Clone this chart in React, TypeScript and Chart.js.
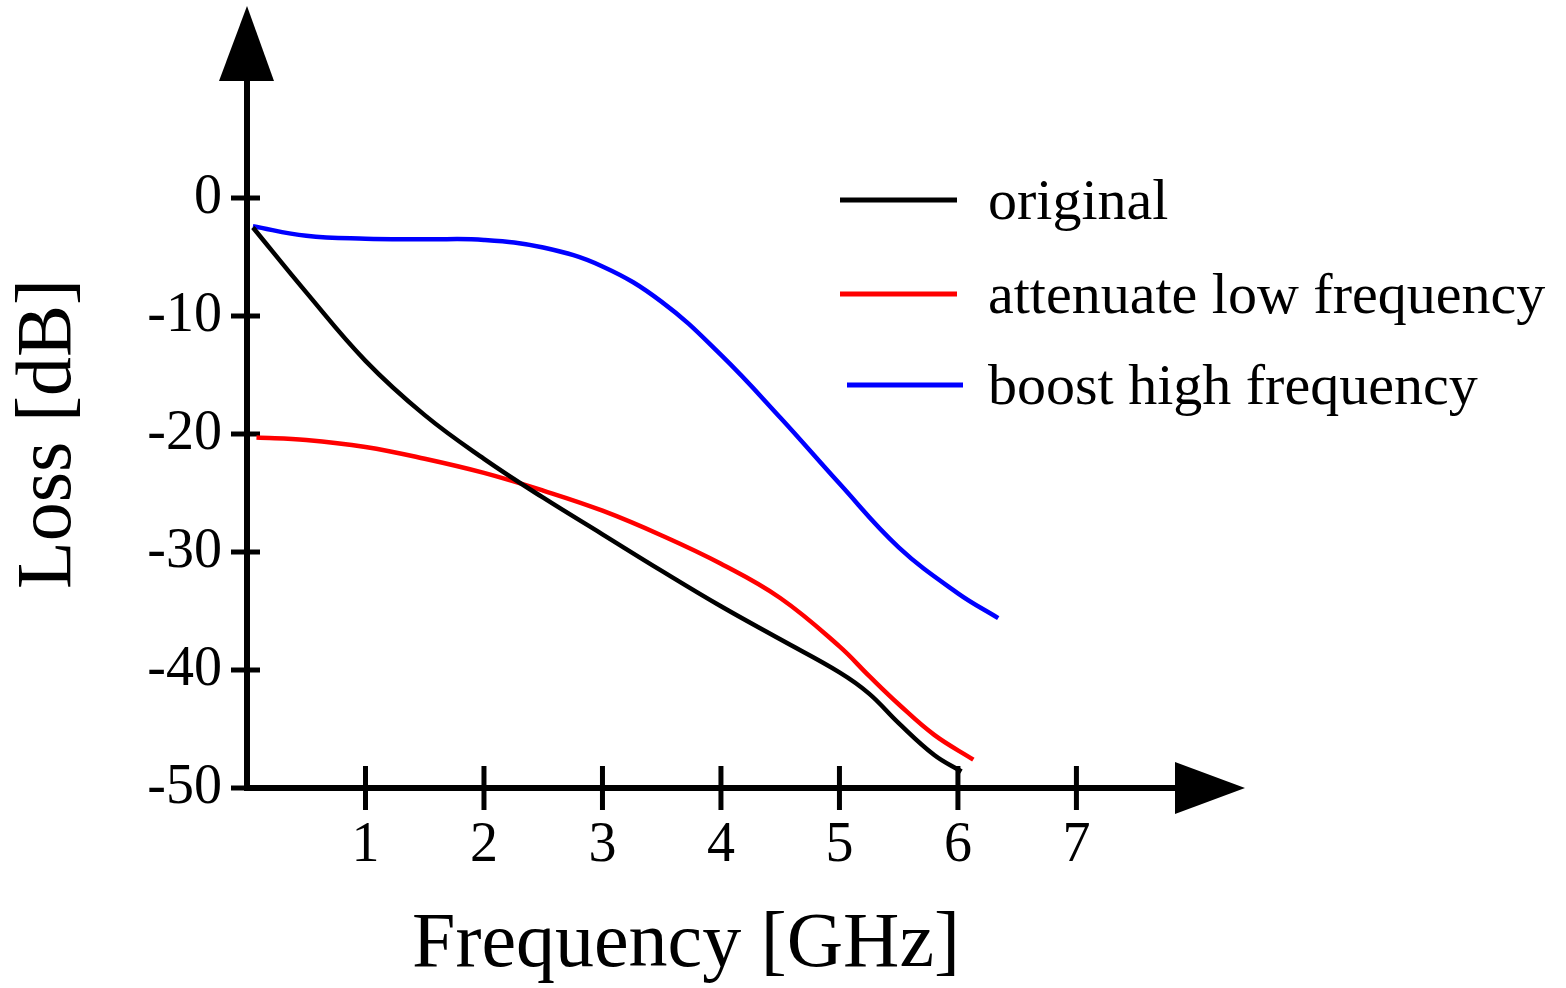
import React, { useEffect, useRef } from 'react';
import { Chart, registerables } from 'chart.js';

Chart.register(...registerables);

// ---------- data ----------
const SERIES_LABELS = ['original', 'attenuate low frequency', 'boost high frequency'];

const originalFreq = [0.05, 0.5, 1.0, 1.5, 2.0, 2.5, 3.0, 3.5, 4.0, 4.5, 5.0, 5.25, 5.5, 5.8, 6.03];
const originalLoss = [-2.5, -8.0, -13.8, -18.4, -22.1, -25.4, -28.5, -31.6, -34.6, -37.4, -40.2, -42.0, -44.5, -47.2, -48.6];

const attenuateFreq = [0.08, 0.5, 1.0, 1.5, 2.0, 2.5, 3.0, 3.5, 4.0, 4.5, 5.0, 5.25, 5.5, 5.8, 6.13];
const attenuateLoss = [-20.3, -20.5, -21.1, -22.1, -23.3, -24.8, -26.5, -28.6, -31.0, -33.9, -38.0, -40.5, -42.9, -45.5, -47.6];

const boostFreq = [0.05, 0.5, 1.0, 1.5, 2.0, 2.5, 3.0, 3.5, 4.0, 4.5, 5.0, 5.5, 6.0, 6.34];
const boostLoss = [-2.4, -3.2, -3.45, -3.5, -3.55, -4.2, -5.8, -8.8, -13.3, -18.6, -24.2, -29.6, -33.5, -35.6];

const X_TICKS = [1, 2, 3, 4, 5, 6, 7];
const Y_TICKS = [0, -10, -20, -30, -40, -50];
const X_TITLE = 'Frequency [GHz]';
const Y_TITLE = 'Loss [dB]';
const SERIES_COLORS = ['#000000', '#ff0000', '#0000ff'];

const FONT = '"Liberation Serif", "Times New Roman", Times, serif';

const toPoints = (xs: number[], ys: number[]) => xs.map((x, i) => ({ x, y: ys[i] }));

const decorPlugin = {
  id: 'decor',
  beforeDatasetsDraw(chart: any) {
    const { ctx, chartArea, scales } = chart;
    const xs = scales.x;
    const ys = scales.y;
    const axisX = chartArea.left;
    const axisY = chartArea.bottom;
    ctx.save();
    ctx.strokeStyle = '#000';
    ctx.fillStyle = '#000';
    ctx.lineCap = 'butt';
    ctx.lineWidth = 6;
    // x-axis extension
    ctx.beginPath();
    ctx.moveTo(chartArea.right - 2, axisY);
    ctx.lineTo(chartArea.right + 52, axisY);
    ctx.stroke();
    // x arrow
    ctx.beginPath();
    ctx.moveTo(chartArea.right + 50, axisY - 26);
    ctx.lineTo(chartArea.right + 120, axisY);
    ctx.lineTo(chartArea.right + 50, axisY + 26);
    ctx.closePath();
    ctx.fill();
    // y arrow
    ctx.beginPath();
    ctx.moveTo(axisX - 28, chartArea.top + 1);
    ctx.lineTo(axisX, chartArea.top - 74);
    ctx.lineTo(axisX + 27, chartArea.top + 1);
    ctx.closePath();
    ctx.fill();
    // crossing ticks
    ctx.lineWidth = 5;
    xs.ticks.forEach((t: any) => {
      const px = xs.getPixelForValue(t.value);
      ctx.beginPath();
      ctx.moveTo(px, axisY - 22);
      ctx.lineTo(px, axisY + 22);
      ctx.stroke();
    });
    ys.ticks.forEach((t: any) => {
      const py = ys.getPixelForValue(t.value);
      ctx.beginPath();
      ctx.moveTo(axisX - 16, py);
      ctx.lineTo(axisX + 13, py);
      ctx.stroke();
    });
    ctx.restore();
  },
  afterDraw(chart: any) {
    const { ctx } = chart;
    const rows = [200, 294, 385];
    ctx.save();
    ctx.font = `58px ${FONT}`;
    ctx.textAlign = 'left';
    ctx.textBaseline = 'alphabetic';
    chart.data.datasets.forEach((ds: any, i: number) => {
      const y = rows[i];
      ctx.strokeStyle = ds.borderColor;
      ctx.lineWidth = 5;
      ctx.beginPath();
      ctx.moveTo(i === 2 ? 847 : 840, y);
      ctx.lineTo(i === 2 ? 963 : 957, y);
      ctx.stroke();
      ctx.fillStyle = '#000';
      ctx.fillText(ds.label, 988, y + 19);
    });
    ctx.restore();
  },
};

export default function App() {
  const canvasRef = useRef<HTMLCanvasElement | null>(null);

  useEffect(() => {
    if (!canvasRef.current) return;
    const tickFont = { family: FONT, size: 56 };
    const titleFont = { family: FONT, size: 78, lineHeight: 1 };
    const chart = new Chart(canvasRef.current, {
      type: 'line',
      data: {
        datasets: [
          { label: SERIES_LABELS[0], data: toPoints(originalFreq, originalLoss) },
          { label: SERIES_LABELS[1], data: toPoints(attenuateFreq, attenuateLoss) },
          { label: SERIES_LABELS[2], data: toPoints(boostFreq, boostLoss) },
        ].map((d, i) => ({
          ...d,
          borderColor: SERIES_COLORS[i],
          backgroundColor: SERIES_COLORS[i],
          borderWidth: 4.5,
          pointRadius: 0,
          fill: false,
          tension: 0.4,
          borderCapStyle: 'butt',
          borderJoinStyle: 'round',
        })),
      },
      options: {
        animation: false,
        responsive: false,
        devicePixelRatio: 1,
        events: [],
        layout: { padding: { left: 0, top: 80, right: 441, bottom: 0 } },
        plugins: { legend: { display: false }, tooltip: { enabled: false } },
        scales: {
          x: {
            type: 'linear',
            min: 0,
            max: 7.41,
            afterBuildTicks: (s: any) => { s.ticks = X_TICKS.map((v) => ({ value: v })); },
            afterFit: (s: any) => { s.height = 200; },
            grid: { display: false, drawTicks: false },
            border: { display: true, color: '#000', width: 6 },
            ticks: { font: tickFont, color: '#000', padding: 25, autoSkip: false, maxRotation: 0, minRotation: 0 },
            title: { display: true, text: X_TITLE, font: titleFont, color: '#000', padding: { top: 0, bottom: 3 } },
          },
          y: {
            type: 'linear',
            min: -50,
            max: 10,
            afterBuildTicks: (s: any) => { s.ticks = Y_TICKS.map((v) => ({ value: v })); },
            afterFit: (s: any) => { s.width = 247; },
            grid: { display: false, drawTicks: false },
            border: { display: true, color: '#000', width: 6 },
            ticks: { font: tickFont, color: '#000', padding: 25, autoSkip: false },
            title: { display: true, text: Y_TITLE, font: titleFont, color: '#000', padding: { top: 11, bottom: 0 } },
          },
        },
      },
      plugins: [decorPlugin],
    } as any);
    return () => chart.destroy();
  }, []);

  return (
    <div style={{ position: 'fixed', left: 0, top: 0, width: 1566, height: 988, background: '#fff' }}>
      <canvas ref={canvasRef} width={1566} height={988} style={{ width: 1566, height: 988, display: 'block' }} />
    </div>
  );
}
